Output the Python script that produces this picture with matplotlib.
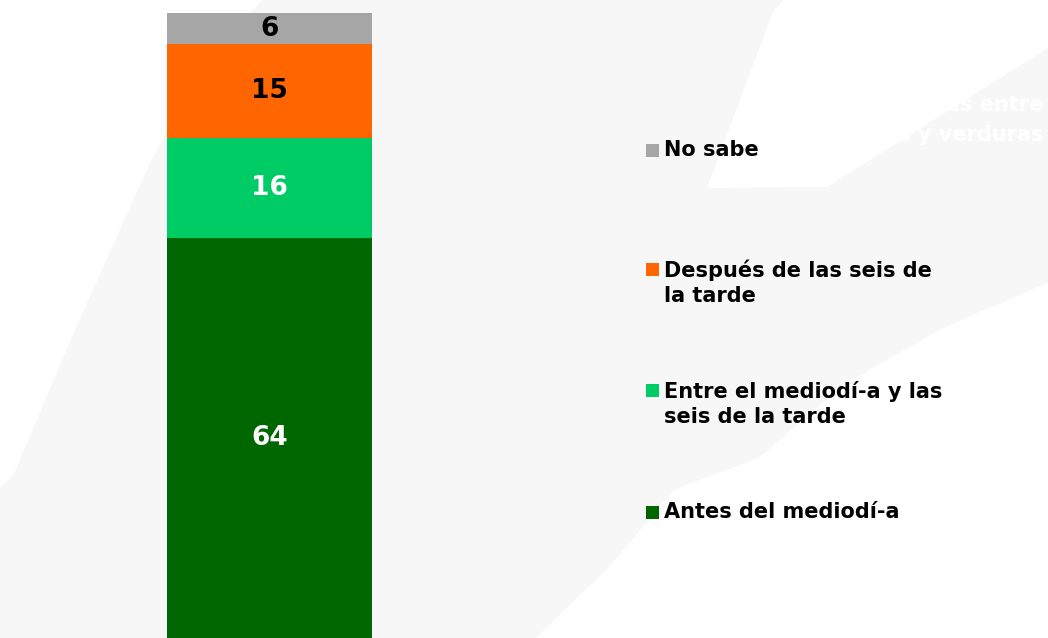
import matplotlib
matplotlib.use("Agg")
import matplotlib.pyplot as plt
from matplotlib.patches import Polygon

# data, bottom to top
categories = ["Antes del mediodí-a",
              "Entre el mediodí-a y las\nseis de la tarde",
              "Después de las seis de\nla tarde",
              "No sabe"]
values = [64, 16, 15, 6]
colors = ["#006600", "#00CC66", "#FF6600", "#A6A6A6"]
label_colors = ["white", "white", "black", "black"]
title_bits = ["as entre", "s y verduras"]

W, H = 1048, 638
fig = plt.figure(figsize=(W / 100, H / 100), dpi=100)

# background layer in pixel coords
bg = fig.add_axes([0, 0, 1, 1])
bg.set_xlim(0, W)
bg.set_ylim(H, 0)
bg.axis("off")
bg.add_patch(Polygon([(0, 0), (W, 0), (W, H), (0, H)], color="#F7F7F7", lw=0))
# white swooshes
bg.add_patch(Polygon([(0, 0), (262, 0), (205, 60), (150, 163), (77, 325),
                      (13, 476), (0, 488)], color="white", lw=0))
bg.add_patch(Polygon([(783, 0), (773, 12), (707, 188), (827, 187),
                      (1048, 48), (1048, 0)], color="white", lw=0))
bg.add_patch(Polygon([(1048, 283), (945, 327), (846, 383), (760, 457),
                      (674, 490), (609, 567), (536, 638), (1048, 638)],
                     color="white", lw=0))

bg.text(1043, 105, title_bits[0], ha="right", va="center", color="white",
        fontsize=15, fontweight="bold")
bg.text(1043, 135, title_bits[1], ha="right", va="center", color="white",
        fontsize=15, fontweight="bold")

# the stacked bar (plot area cuts the top of the last segment)
ymax = 100
ax = fig.add_axes([167 / W, 0, 205 / W, (H - 13) / H])
ax.set_xlim(-0.5, 0.5)
ax.set_ylim(0, ymax)
ax.axis("off")
bottom = 0
for v, c, lc in zip(values, colors, label_colors):
    ax.bar(0, v, width=1, bottom=bottom, color=c, lw=0)
    mid = (bottom + min(bottom + v, ymax)) / 2
    ax.text(0, mid, str(v), ha="center", va="center",
            color=lc, fontsize=19, fontweight="bold")
    bottom += v

# legend, top to bottom
leg_y = [150, 283, 404, 512]
for cat, c, y in zip(categories[::-1], colors[::-1], leg_y):
    n = cat.count("\n")
    top = y - 13.5 * n
    bg.add_patch(Polygon([(646, top - 6.5), (659, top - 6.5), (659, top + 6.5),
                          (646, top + 6.5)], color=c, lw=0))
    bg.text(664, y, cat, ha="left", va="center", fontsize=15,
            fontweight="bold", color="black", linespacing=1.3)

fig.savefig("out.png", dpi=100)
